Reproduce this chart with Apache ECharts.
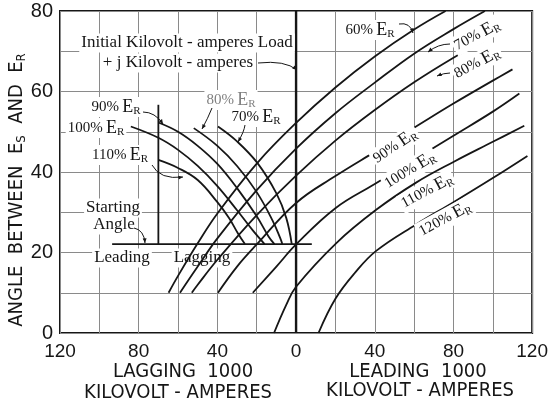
<!DOCTYPE html>
<html>
<head>
<meta charset="utf-8">
<script src="https://cdn.jsdelivr.net/npm/echarts@6/dist/echarts.min.js"></script>
<style>
  html, body { margin: 0; padding: 0; background: #fff; }
  #main { width: 551px; height: 407px; }
</style>
</head>
<body>
<div id="main"></div>
<script>
// axis ticks (negative x = lagging kVA, positive = leading)
var xTickLabels = [-120, -80, -40, 0, 40, 80, 120];
var yTickLabels = [0, 20, 40, 60, 80];

// rising curves (leading side), [1000 kVA, angle in degrees]
var rise60 = [[-64.8, 10], [-60, 14.2], [-50, 22.3], [-40, 29.7], [-20, 42.1], [0, 52.2], [20, 61], [40, 68.7], [60, 75.4], [76, 80]];
var rise70 = [[-59, 10], [-50, 16.5], [-40, 23.5], [-20, 35.5], [0, 45.8], [20, 54.6], [40, 62.2], [60, 69.4], [80, 75.5], [96, 80]];
var rise80 = [[-53, 10], [-50, 12], [-40, 18.2], [-20, 29.3], [0, 39.1], [20, 47.8], [40, 55.4], [60, 62.3], [80, 68.4], [95, 72.5]];
var rise90 = [[-39.7, 10], [-30, 16.5], [-20, 22], [0, 32.3], [20, 39], [40, 45], [60, 51], [80, 57], [100, 62.7], [110, 65.5]];
var rise100 = [[-22, 10], [-10, 16.5], [0, 22], [20, 31], [40, 37], [60, 43], [80, 49], [100, 55], [113.5, 59.5]];
var rise110 = [[-11.2, 0], [-5, 7], [0, 11.5], [20.6, 22.4], [40.7, 30.6], [60.8, 37.3], [80, 42.5], [100, 47.5], [116, 51.5]];
var rise120 = [[11.4, 0], [20, 8.5], [30, 15], [40.7, 20.4], [60.8, 26.9], [80, 32.5], [100, 38.5], [117.6, 44]];

// falling arcs (lagging side)
var arc70 = [[-39.7, 51.3], [-30, 47.6], [-19.6, 42.2], [-10, 34.7], [-5, 28.6], [-2.2, 22.1]];
var arc80 = [[-52, 50.9], [-40, 46.5], [-30, 41.5], [-20, 35], [-12, 28], [-8, 23.5], [-7, 22.1]];
var arc90 = [[-70, 52.3], [-60, 50], [-50, 46.5], [-40, 42], [-30, 36], [-20, 29], [-14, 24], [-11, 22.1]];
var arc100 = [[-84, 51.3], [-70, 48.5], [-60, 45.5], [-50, 41.5], [-40, 36.5], [-30, 30.5], [-22, 25.5], [-16, 22.1]];
var arc110 = [[-70, 43], [-60, 41], [-50, 38], [-40, 32.5], [-34, 28.5], [-29.6, 24.8], [-26, 22.1]];

// construction lines
var zeroLine = [[0, 0], [0, 80]];
var startLine = [[-93.5, 22.1], [8, 22.1]];
var startPost = [[-70, 22.1], [-70, 56.7]];

var chart = echarts.init(document.getElementById('main'));

var sans = '"Liberation Sans", Arial, sans-serif';
var narrow = '"Liberation Sans Narrow", "DejaVu Sans Condensed", "Liberation Sans", sans-serif';
var serif = '"Liberation Serif", "DejaVu Serif", serif';
var ink = '#161616';

function curve(name, data, w) {
  return {
    name: name, type: 'line', data: data, symbol: 'none', smooth: 0.4,
    silent: true, z: 3, lineStyle: { color: ink, width: w || 1.8 }
  };
}
function straight(name, data, w) {
  return {
    name: name, type: 'line', data: data, symbol: 'none',
    silent: true, z: 3, lineStyle: { color: ink, width: w || 1.8 }
  };
}

var erRich = {
  p: { fontFamily: serif, fontSize: 15, fill: ink, lineHeight: 20 },
  e: { fontFamily: serif, fontSize: 18, fill: ink, lineHeight: 20 },
  r: { fontFamily: serif, fontSize: 11, fill: ink, lineHeight: 20, verticalAlign: 'bottom', padding: [7, 0, 0, 0] }
};
function erText(pct, x, y, rot, gray) {
  var rich = JSON.parse(JSON.stringify(erRich));
  if (gray) { rich.p.fill = '#808080'; rich.e.fill = '#808080'; rich.r.fill = '#808080'; }
  return {
    type: 'text', x: x, y: y, rotation: rot || 0, z: 10,
    style: {
      text: '{p|' + pct + '%} {e|E}{r|R}', rich: rich,
      align: 'center', verticalAlign: 'middle',
      backgroundColor: '#fff', padding: [0, 2, 0, 2]
    }
  };
}
function plain(txt, x, y, size, font, z) {
  return {
    type: 'text', x: x, y: y, z: z || 10,
    style: {
      text: txt, fontFamily: font || serif, fontSize: size || 17, fill: ink,
      align: 'center', verticalAlign: 'middle', backgroundColor: '#fff', padding: [1, 2, 1, 2]
    }
  };
}
function arrow(pts) {
  // pts: [x1,y1, cx,cy, x2,y2] quadratic arrow with head at end
  var x1 = pts[0], y1 = pts[1], cx = pts[2], cy = pts[3], x2 = pts[4], y2 = pts[5];
  var a = Math.atan2(y2 - cy, x2 - cx), L = 5;
  return [{
    type: 'bezierCurve', z: 11, silent: true,
    shape: { x1: x1, y1: y1, x2: x2, y2: y2, cpx1: cx, cpy1: cy },
    style: { stroke: ink, lineWidth: 1, fill: null }
  }, {
    type: 'polygon', z: 11, silent: true,
    shape: { points: [[x2, y2], [x2 - L * Math.cos(a - 0.4), y2 - L * Math.sin(a - 0.4)], [x2 - L * Math.cos(a + 0.4), y2 - L * Math.sin(a + 0.4)]] },
    style: { fill: ink }
  }];
}

var graphics = [
  {
    type: 'text', x: 17, y: 190, rotation: Math.PI / 2, z: 10,
    style: {
      text: '{t|ANGLE  BETWEEN  E}{s|S}{t|  AND  E}{s|R}',
      rich: {
        t: { fontFamily: narrow, fontSize: 20, fill: ink, lineHeight: 22 },
        s: { fontFamily: narrow, fontSize: 13, fill: ink, lineHeight: 22, verticalAlign: 'bottom', padding: [8, 0, 0, 0] }
      },
      align: 'center', verticalAlign: 'middle'
    }
  },
  plain('LAGGING  1000', 183, 372, 20, narrow),
  plain('KILOVOLT - AMPERES', 178, 393, 20, narrow),
  plain('LEADING  1000', 418, 372, 20, narrow),
  plain('KILOVOLT - AMPERES', 420, 391, 20, narrow),
  plain('Initial Kilovolt - amperes Load', 187, 43, 17),
  plain('+ j Kilovolt - amperes', 178, 63, 17),
  plain('Starting', 113, 208, 17),
  plain('Angle', 114, 225, 17),
  plain('Leading', 122, 258, 17),
  plain('Lagging', 202, 258, 17, serif, 1),
  erText(90, 116, 107),
  erText(100, 96, 128),
  erText(110, 120, 155),
  erText(80, 231, 100, 0, true),
  erText(70, 256, 117),
  erText(60, 370, 30),
  erText(70, 477, 35, 0.5),
  erText(80, 477, 63, 0.5),
  erText(90, 395, 146, 0.6),
  erText(100, 410, 170, 0.55),
  erText(110, 427, 191, 0.5),
  erText(120, 445, 219, 0.5)
];
[
  [258, 63, 285, 60, 297, 70],
  [399, 24, 410, 22, 413, 33],
  [450, 44, 438, 44, 428, 52],
  [450, 73, 444, 73, 437, 76],
  [143, 112, 155, 112, 163, 124],
  [152, 165, 160, 180, 183, 177],
  [212, 108, 208, 118, 202, 129],
  [245, 125, 244, 132, 238, 142],
  [134, 228, 144, 230, 145, 243]
].forEach(function (p) { graphics = graphics.concat(arrow(p)); });

var option = {
  animation: false,
  backgroundColor: '#fff',
  grid: { left: 60, right: 14, top: 11, bottom: 74, show: true, borderColor: ink, borderWidth: 2 },
  xAxis: {
    type: 'value', min: -120, max: 120, interval: 20,
    axisLine: { show: false }, axisTick: { show: false },
    splitLine: { lineStyle: { color: '#8a8a8a', width: 1 } },
    axisLabel: {
      fontFamily: sans, fontSize: 19, color: ink, margin: 9,
      formatter: function (v) { return xTickLabels.indexOf(v) >= 0 ? String(Math.abs(v)) : ''; }
    }
  },
  yAxis: {
    type: 'value', min: 0, max: 80, interval: 10,
    axisLine: { show: false }, axisTick: { show: false },
    splitLine: { lineStyle: { color: '#8a8a8a', width: 1 } },
    axisLabel: {
      fontFamily: sans, fontSize: 20, color: ink, margin: 7,
      formatter: function (v) { return yTickLabels.indexOf(v) >= 0 ? String(v) : ''; }
    }
  },
  series: [
    straight('zero', zeroLine, 2.4),
    straight('start', startLine, 1.8),
    straight('post', startPost, 1.8),
    curve('60%', rise60), curve('70%', rise70), curve('80%', rise80), curve('90%', rise90),
    curve('100%', rise100), curve('110%', rise110), curve('120%', rise120),
    curve('a70', arc70), curve('a80', arc80), curve('a90', arc90), curve('a100', arc100), curve('a110', arc110)
  ],
  graphic: graphics
};
chart.setOption(option);
</script>
</body>
</html>
